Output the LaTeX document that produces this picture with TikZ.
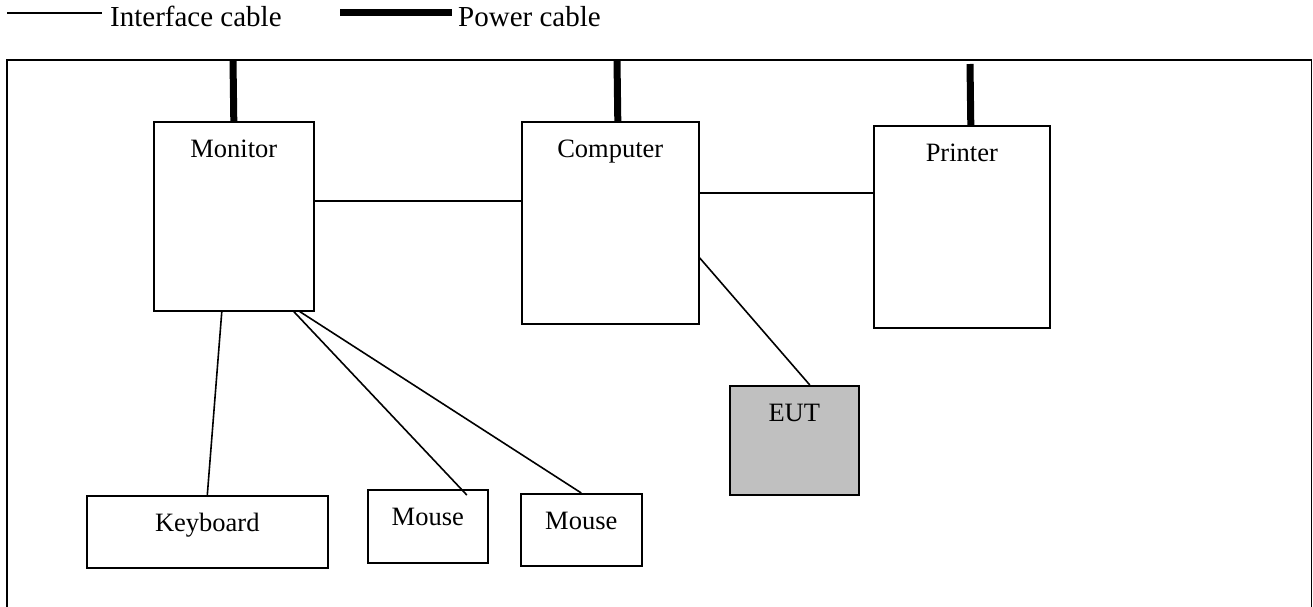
\documentclass[tikz,border=0pt]{standalone}
\usepackage{fontspec}
\setmainfont{Liberation Serif}
\definecolor{eutgray}{RGB}{192,192,192}
\begin{document}
\begin{tikzpicture}[x=1pt,y=-1pt,
  box/.style={draw, line width=1.6pt, inner sep=0pt, anchor=north west,
    font=\fontsize{26.5}{30}\selectfont, text height=36pt},
  legtext/.style={inner sep=0pt, anchor=base west, font=\fontsize{29}{32}\selectfont},
  iface/.style={line width=1.6pt},
  power/.style={line width=7pt},
  frame/.style={line width=1.6pt}]
\useasboundingbox (0,0) rectangle (1313,607);
% legend
\coordinate (li1) at (7,13);
\coordinate (li2) at (102,13);
\node[legtext] (lt1) at (110,27) {Interface cable};
\coordinate (lp1) at (340,13);
\coordinate (lp2) at (452,13);
\node[legtext] (lt2) at (458,27) {Power cable};
\draw[iface] (li1) -- (li2);
\draw[power] (lp1) -- (lp2);
% frame
\draw[frame] (7,607) -- (7,60) -- (1311.5,60) -- (1311.5,607);
% boxes
\node[box, minimum width=160pt, text depth=153pt] (monitor) at (153,121) {Monitor};
\node[box, minimum width=177pt, text depth=166pt] (computer) at (521,121) {Computer};
\node[box, minimum width=176pt, text depth=166pt] (printer) at (873,125) {Printer};
\node[box, fill=eutgray, minimum width=129pt, text depth=73pt] (eut) at (729,385) {EUT};
\node[box, minimum width=241pt, text depth=36pt] (keyboard) at (86,495) {Keyboard};
\node[box, minimum width=120pt, text depth=37pt] (mouse1) at (367,489) {Mouse};
\node[box, minimum width=121pt, text depth=36pt] (mouse2) at (520,493) {Mouse};
% power cables
\coordinate (pmon) at (233,60);
\coordinate (pcom) at (617,60);
\coordinate (ppri) at (970,64);
\draw[power] (pmon) -- (monitor.north);
\draw[power] (pcom) -- ([xshift=7.5pt]computer.north);
\draw[power] (ppri) -- ([xshift=9pt]printer.north);
% interface cables
\draw[iface] ([yshift=15.5pt]monitor.east) -- ([yshift=22pt]computer.west);
\draw[iface] ([yshift=30pt]computer.east) -- ([yshift=34pt]printer.west);
\draw[iface] ([yshift=-35pt]computer.east) -- ([xshift=15.5pt]eut.north);
\draw[iface] ([xshift=-12pt]monitor.south) -- (keyboard.north);
\draw[iface] ([xshift=60pt]monitor.south) -- ([xshift=39pt,yshift=-6pt]mouse1.north);
\draw[iface] ([xshift=66pt]monitor.south) -- (mouse2.north);
\end{tikzpicture}
\end{document}
